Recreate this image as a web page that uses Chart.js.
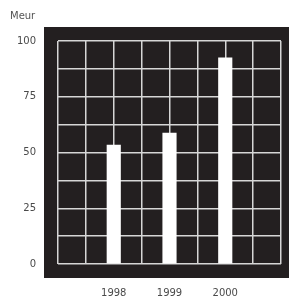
<!DOCTYPE html>
<html>
<head>
<meta charset="utf-8">
<script src="https://cdn.jsdelivr.net/npm/chart.js@4"></script>
<style>
html,body{margin:0;padding:0;background:#fff;}
#wrap{width:289px;height:299px;}
</style>
</head>
<body>
<div id="wrap"><canvas id="c" width="289" height="299"></canvas></div>
<script>
const years = [1998, 1999, 2000];
const values = [53.3, 58.7, 92.4];
const unitLabel = 'Meur';
const yTickLabels = [0, 25, 50, 75, 100];

const darkBg = {
  id: 'darkBg',
  beforeDraw(chart) {
    const {ctx, chartArea: a} = chart;
    ctx.save();
    ctx.fillStyle = '#231f20';
    ctx.fillRect(a.left - 14, a.top - 14, chart.width - (a.left - 14), (a.bottom + 14) - (a.top - 14));
    ctx.restore();
  },
  afterDraw(chart) {
    const {ctx} = chart;
    ctx.save();
    ctx.fillStyle = '#555555';
    ctx.font = '10px "DejaVu Sans"';
    ctx.textBaseline = 'middle';
    ctx.textAlign = 'left';
    ctx.fillText(unitLabel, 10, 16);
    ctx.restore();
  }
};

new Chart(document.getElementById('c'), {
  type: 'bar',
  data: {
    datasets: [{
      data: years.map((y, i) => ({x: y, y: values[i]})),
      backgroundColor: '#ffffff',
      borderWidth: 0,
      barThickness: 13.5
    }]
  },
  options: {
    responsive: false,
    animation: false,
    devicePixelRatio: 1,
    layout: {padding: {left: 0, right: 8, top: 41, bottom: 0}},
    plugins: {legend: {display: false}, tooltip: {enabled: false}},
    scales: {
      x: {
        type: 'linear',
        min: 1997, max: 2001,
        offset: false,
        afterFit(s) { s.height = 35; s.paddingLeft = 0; s.paddingRight = 0; },
        ticks: {
          stepSize: 0.5,
          autoSkip: false,
          maxRotation: 0,
          padding: 23,
          color: '#4a4a4a',
          font: {family: 'DejaVu Sans', size: 10},
          callback: v => years.includes(v) ? String(v) : ''
        },
        grid: {color: '#d6d6d6', lineWidth: 1.5, drawTicks: false, offset: false},
        border: {display: false}
      },
      y: {
        min: 0, max: 100,
        afterFit(s) { s.width = 58; s.paddingTop = 0; s.paddingBottom = 0; },
        ticks: {
          stepSize: 12.5,
          autoSkip: false,
          padding: 22,
          color: '#4a4a4a',
          font: {family: 'DejaVu Sans', size: 10},
          callback: v => yTickLabels.includes(v) ? String(v) : ''
        },
        grid: {color: '#d6d6d6', lineWidth: 1.5, drawTicks: false},
        border: {display: false}
      }
    }
  },
  plugins: [darkBg]
});
</script>
</body>
</html>
